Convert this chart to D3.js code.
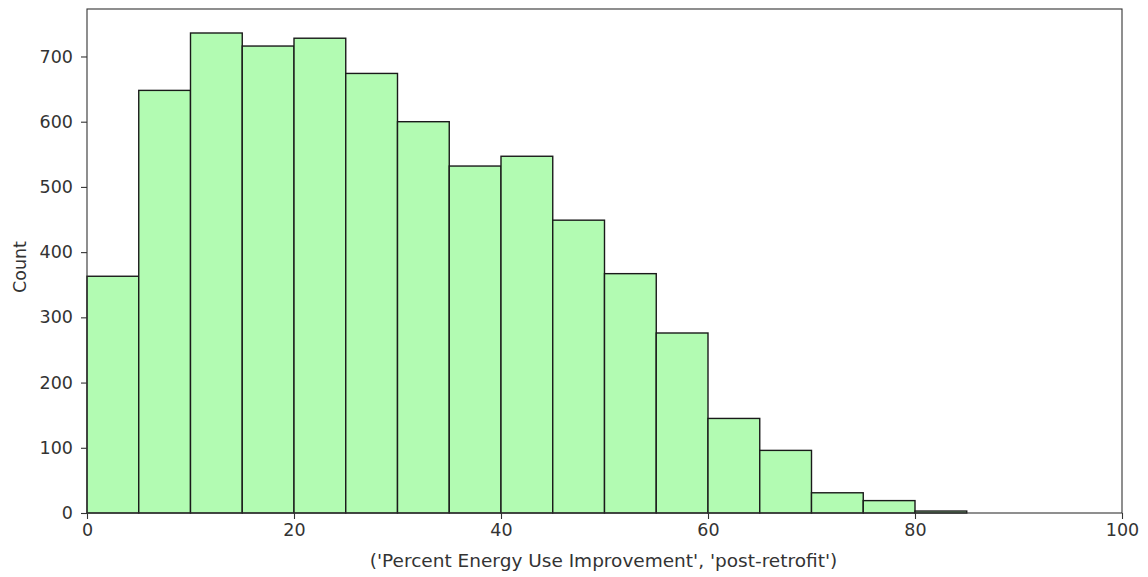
<!DOCTYPE html>
<html>
<head>
<meta charset="utf-8">
<script src="https://cdn.jsdelivr.net/npm/d3@7"></script>
<style>
  body { margin: 0; background: #fff; }
  text { font-family: "DejaVu Sans", sans-serif; }
</style>
</head>
<body>
<div id="chart"></div>
<script>
// histogram bins (5 wide) and counts
var binStarts = [0, 5, 10, 15, 20, 25, 30, 35, 40, 45, 50, 55, 60, 65, 70, 75, 80, 85, 90, 95];
var counts = [363, 648, 736, 716, 728, 674, 600, 532, 547, 449, 367, 276, 145, 96, 31, 19, 3, 0, 0, 0];
var binWidth = 5;
var xTicks = [0, 20, 40, 60, 80, 100];
var yTicks = [0, 100, 200, 300, 400, 500, 600, 700];
var xLabel = "('Percent Energy Use Improvement', 'post-retrofit')";
var yLabel = "Count";

var svgWidth = 1148, svgHeight = 577;
var margin = { top: 9, right: 26, bottom: 64, left: 87 };
var width = svgWidth - margin.left - margin.right;
var height = svgHeight - margin.top - margin.bottom;

var bins = binStarts.map(function (s, i) { return { x0: s, x1: s + binWidth, n: counts[i] }; });

var svg = d3.select("#chart")
    .append("svg")
    .attr("width", svgWidth)
    .attr("height", svgHeight);

var g = svg.append("g")
    .attr("transform", "translate(" + margin.left + "," + margin.top + ")");

var x = d3.scaleLinear().domain([0, 100]).range([0, width]);
var y = d3.scaleLinear().domain([0, d3.max(counts) * 1.05]).range([height, 0]);

// bars
g.append("g")
    .selectAll("rect")
    .data(bins)
    .enter()
    .append("rect")
    .attr("x", function (d) { return x(d.x0); })
    .attr("y", function (d) { return y(d.n); })
    .attr("width", function (d) { return x(d.x1) - x(d.x0); })
    .attr("height", function (d) { return y(0) - y(d.n); })
    .style("fill", "#b2fbb2")
    .style("stroke", "#1a1a1a")
    .style("stroke-width", 1.4);

// axes
var xAxis = g.append("g")
    .attr("transform", "translate(0," + height + ")")
    .call(d3.axisBottom(x).tickValues(xTicks).tickFormat(d3.format("d")).tickSize(6).tickPadding(5));

var yAxis = g.append("g")
    .call(d3.axisLeft(y).tickValues(yTicks).tickFormat(d3.format("d")).tickSize(6).tickPadding(8));

[xAxis, yAxis].forEach(function (a) {
    a.select(".domain").remove();
    a.selectAll(".tick line").style("stroke", "#333").style("stroke-width", 1.1);
    a.selectAll(".tick text").style("font-size", "17.5px").style("fill", "#333");
});

// frame
g.append("rect")
    .attr("width", width)
    .attr("height", height)
    .style("fill", "none")
    .style("stroke", "#333")
    .style("stroke-width", 1.1);

// labels
svg.append("text")
    .attr("x", margin.left + width / 2 - 1)
    .attr("y", 567)
    .attr("text-anchor", "middle")
    .style("font-size", "18.5px")
    .style("fill", "#333")
    .text(xLabel);

svg.append("text")
    .attr("transform", "translate(26," + (margin.top + height / 2 + 6) + ") rotate(-90)")
    .attr("text-anchor", "middle")
    .style("font-size", "17.5px")
    .style("fill", "#333")
    .text(yLabel);
</script>
</body>
</html>
